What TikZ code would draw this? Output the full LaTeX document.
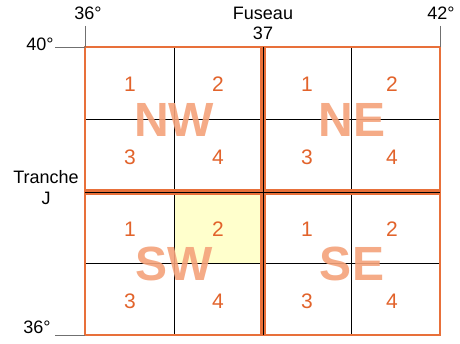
\documentclass[tikz,border=0pt]{standalone}
\usepackage{fontspec}
\setmainfont{Liberation Sans}
\definecolor{frame}{HTML}{E8703A}
\definecolor{numc}{HTML}{E2632B}
\definecolor{bigc}{HTML}{F4A27A}
\definecolor{hl}{HTML}{FFFFCC}
\definecolor{tick}{HTML}{707070}
\tikzset{
  quad/.style={draw=frame, line width=2.2pt},
  grid/.style={draw=black, line width=0.7pt},
  num/.style={text=numc, font=\fontsize{21}{21}\selectfont, inner sep=0pt},
  big/.style={text=bigc, font=\fontsize{48}{48}\selectfont\bfseries, inner sep=0pt, opacity=0.9},
  lab/.style={text=black, font=\fontsize{18}{20}\selectfont, inner sep=0pt, align=center},
  tk/.style={draw=tick, line width=0.6pt}
}
\begin{document}
\begin{tikzpicture}[x=1pt,y=-1pt]
\useasboundingbox (0,0) rectangle (460,344);
\fill[white] (0,0) rectangle (460,344);
% highlighted cell
\fill[hl] (174,193) rectangle (262,263);
% grid lines
\draw[grid] (174,47) -- (174,335);
\draw[grid] (263,47) -- (263,335);
\draw[grid] (351,47) -- (351,335);
\draw[grid] (85,119) -- (440,119);
\draw[grid] (85,192) -- (440,192);
\draw[grid] (85,263) -- (440,263);
% quadrant frames
\draw[quad] (85,47) rectangle (261.5,190.5);
\draw[quad] (264.5,47) rectangle (440,190.5);
\draw[quad] (85,193.5) rectangle (261.5,335);
\draw[quad] (264.5,193.5) rectangle (440,335);
\draw[grid] (263,47) -- (263,335);
\draw[grid] (85,192) -- (440,192);
% big labels
\node[big] (nw) at (174,120) {NW};
\node[big] (ne) at (352,120) {NE};
\node[big] (sw) at (174,264) {SW};
\node[big] (se) at (352,264) {SE};
% numbers
\node[num] (nw1) at (130,84) {1};
\node[num] (nw2) at (218,84) {2};
\node[num] (nw3) at (130,157) {3};
\node[num] (nw4) at (218,157) {4};
\node[num] (ne1) at (307,84) {1};
\node[num] (ne2) at (392,84) {2};
\node[num] (ne3) at (307,157) {3};
\node[num] (ne4) at (392,157) {4};
\node[num] (sw1) at (130,229) {1};
\node[num] (sw2) at (218,229) {2};
\node[num] (sw3) at (130,301) {3};
\node[num] (sw4) at (218,301) {4};
\node[num] (se1) at (307,229) {1};
\node[num] (se2) at (392,229) {2};
\node[num] (se3) at (307,301) {3};
\node[num] (se4) at (392,301) {4};
% axis labels
\node[lab] (l36top) at (88,13) {36°};
\node[lab] (l42) at (441,13) {42°};
\node[lab] (fus) at (263,13) {Fuseau};
\node[lab] (f37) at (263,33) {37};
\node[lab] (l40) at (40,44) {40°};
\node[lab] (l36bot) at (37,327) {36°};
\node[lab, font=\fontsize{18}{21}\selectfont] (tr) at (46,188) {Tranche\\J};
% tick lines
\coordinate (t36a) at (85,26);
\coordinate (t36b) at (85,47);
\coordinate (t42a) at (440,26);
\coordinate (t42b) at (440,47);
\coordinate (t40a) at (55,47);
\coordinate (t40b) at (85,47);
\coordinate (t36ca) at (55,335);
\coordinate (t36cb) at (85,335);
\draw[tk] (t36a) -- (t36b);
\draw[tk] (t42a) -- (t42b);
\draw[tk] (t40a) -- (t40b);
\draw[tk] (t36ca) -- (t36cb);
\end{tikzpicture}
\end{document}
